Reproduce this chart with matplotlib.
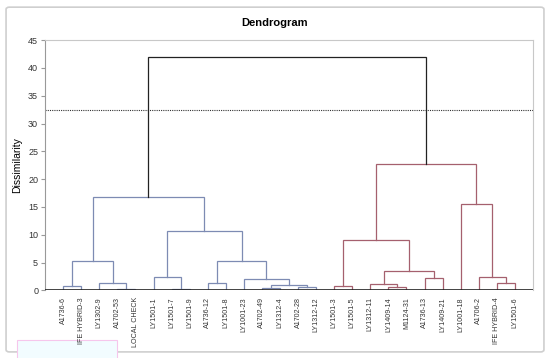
import matplotlib
matplotlib.use('Agg')
import matplotlib.pyplot as plt
from matplotlib.patches import FancyBboxPatch, Rectangle

plt.rcParams['font.family'] = ['Liberation Sans', 'DejaVu Sans']

# ----- data -----
leaves = ['A1736-6', 'IFE HYBRID-3', 'LY1302-9', 'A1702-53', 'LOCAL CHECK',
          'LY1501-1', 'LY1501-7', 'LY1501-9', 'A1736-12', 'LY1501-8',
          'LY1001-23', 'A1702-49', 'LY1312-4', 'A1702-28', 'LY1312-12',
          'LY1501-3', 'LY1501-5', 'LY1312-11', 'LY1409-14', 'M1124-31',
          'A1736-13', 'LY1409-21', 'LY1001-18', 'A1706-2', 'IFE HYBRID-4',
          'LY1501-6']

# merges: (left, right) -- a leaf name or the index of an earlier merge
merge_left = ['A1736-6', 'A1702-53', 'LY1302-9', 0, 'LY1501-7', 'LY1501-1',
              'A1736-12', 'A1702-49', 'A1702-28', 7, 'LY1001-23', 6, 5, 3,
              'LY1501-3', 'LY1409-14', 'LY1312-11', 'A1736-13', 16, 14,
              'IFE HYBRID-4', 'A1706-2', 'LY1001-18', 19, 13]
merge_right = ['IFE HYBRID-3', 'LOCAL CHECK', 1, 2, 'LY1501-9', 4,
               'LY1501-8', 'LY1312-4', 'LY1312-12', 8, 9, 10, 11, 12,
               'LY1501-5', 'M1124-31', 15, 'LY1409-21', 17, 18,
               'LY1501-6', 20, 21, 22, 23]
merge_height = [0.8, 0.2, 1.25, 5.25, 0.25, 2.45, 1.25, 0.35, 0.65, 0.9,
                2.1, 5.25, 10.6, 16.7, 0.8, 0.65, 1.2, 2.2, 3.5, 9.1,
                1.35, 2.4, 15.6, 22.65, 41.9]
merge_group = ['A'] * 14 + ['B'] * 10 + ['top']

truncation = 32.4

group_colors = {'A': '#7d8bb3', 'B': '#a5606e', 'top': '#222222'}

# ----- layout helpers -----
leaf_x = {name: i + 1 for i, name in enumerate(leaves)}


def node_pos(node, merge_x):
    if isinstance(node, str):
        return leaf_x[node], 0.0
    return merge_x[node], merge_height[node]


fig = plt.figure(figsize=(5.5, 3.58), dpi=100)
ax = fig.add_axes([0.082, 0.189, 0.887, 0.699])
ax.patch.set_alpha(0)

merge_x = []
for i in range(len(merge_height)):
    xl, yl = node_pos(merge_left[i], merge_x)
    xr, yr = node_pos(merge_right[i], merge_x)
    h = merge_height[i]
    c = group_colors[merge_group[i]]
    ax.plot([xl, xl, xr, xr], [yl, h, h, yr], color=c, lw=0.9,
            solid_joinstyle='miter', zorder=3)
    merge_x.append((xl + xr) / 2)

ax.axhline(truncation, color='#333333', lw=0.8, ls=(0, (1, 1)), zorder=2)
ax.axhline(0, color='#222222', lw=1.2, zorder=4)

ax.set_xlim(0, 27)
ax.set_ylim(0, 45)
ax.set_yticks(range(0, 46, 5))
ax.set_xticks([])
ax.tick_params(axis='y', labelsize=6.5, length=3, color='#999999',
               labelcolor='#333333', pad=2)
for s in ['top', 'right', 'left']:
    ax.spines[s].set_color('#c8c8c8')
ax.spines['left'].set_color('#999999')
ax.spines['bottom'].set_visible(False)

for name in leaves:
    ax.text(leaf_x[name], -1.2, name, rotation=90, ha='center', va='top',
            fontsize=5.1, color='#333333', clip_on=False)

ax.set_ylabel('Dissimilarity', fontsize=7.5, labelpad=4)
fig.text(0.5, 0.937, 'Dendrogram', ha='center', va='center',
         fontsize=8, fontweight='bold')

# outer chart border
fig.patches.append(FancyBboxPatch((0.011, 0.017), 0.978, 0.963,
                                  boxstyle='round,pad=0,rounding_size=0.006',
                                  transform=fig.transFigure, fill=False,
                                  ec='#cfcfcf', lw=1.2, zorder=-2))
# faint box below the first labels (sits behind the text)
fig.patches.append(Rectangle((0.031, -0.01), 0.182, 0.06,
                             transform=fig.transFigure, fc='#f2fcff',
                             ec='#f6c6ec', lw=0.8, zorder=-1))

fig.savefig('out.png', dpi=100)
